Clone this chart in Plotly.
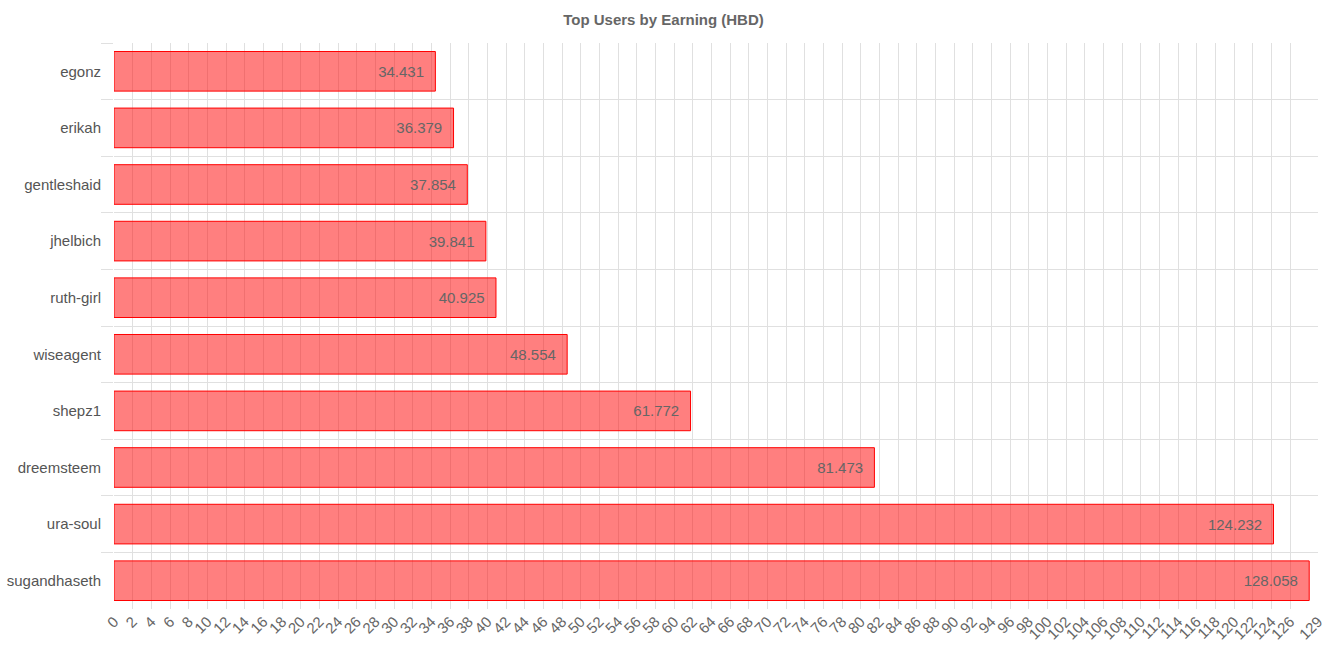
import plotly.graph_objects as go

users = ["egonz", "erikah", "gentleshaid", "jhelbich", "ruth-girl",
         "wiseagent", "shepz1", "dreemsteem", "ura-soul", "sugandhaseth"]
earnings = [34.431, 36.379, 37.854, 39.841, 40.925,
            48.554, 61.772, 81.473, 124.232, 128.058]
x_ticks = list(range(0, 127, 2)) + [129]
x_max = 129

FONT = "Liberation Sans, Arial, sans-serif"

fig = go.Figure(go.Bar(
    y=users,
    x=earnings,
    orientation="h",
    marker=dict(color="rgba(255,0,0,0.5)", line=dict(color="#ff0000", width=1)),
    texttemplate="%{x:.3f}\u00a0\u00a0",
    textposition="inside",
    insidetextanchor="end",
    insidetextfont=dict(color="#666666", size=15, family=FONT),
    constraintext="none",
    hoverinfo="x+y",
))

fig.update_layout(
    width=1327, height=663,
    margin=dict(l=114, r=9, t=43, b=54, autoexpand=False),
    paper_bgcolor="white", plot_bgcolor="white",
    bargap=0.3,
    showlegend=False,
    font=dict(family=FONT, color="#666666", size=15),
    title=dict(text="<b>Top Users by Earning (HBD)</b>", x=0.5, xanchor="center",
               y=1 - 20 / 663, yanchor="middle",
               font=dict(size=15, color="#666666")),
    xaxis=dict(range=[0, x_max], tickmode="array", tickvals=x_ticks,
               ticktext=[str(v) for v in x_ticks], tickangle=-45,
               showgrid=True, gridcolor="#e0e0e0", gridwidth=1,
               zeroline=False, showline=False, ticks="", automargin=False,
               tickfont=dict(size=15, color="#666666")),
    yaxis=dict(type="category", categoryorder="array", categoryarray=users,
               autorange="reversed", tickson="boundaries",
               showgrid=True, gridcolor="#e0e0e0", gridwidth=1,
               ticks="outside", ticklen=12, tickcolor="#e0e0e0",
               ticklabelstandoff=12, automargin=False,
               showline=False, zeroline=False,
               tickfont=dict(size=15, color="#555555")),
)

fig.write_html("out.html")
